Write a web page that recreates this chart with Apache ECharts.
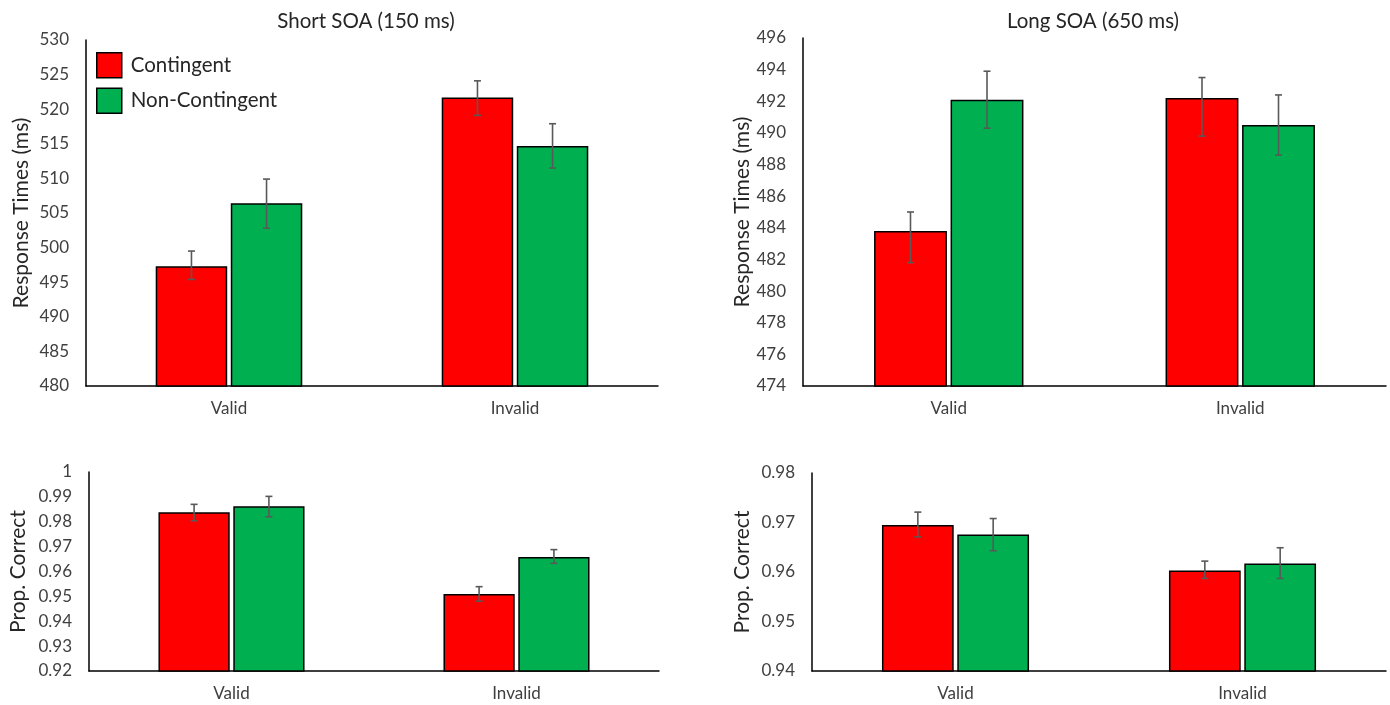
<!DOCTYPE html>
<html>
<head>
<meta charset="utf-8">
<title>Response times and accuracy by SOA</title>
<script src="https://cdn.jsdelivr.net/npm/echarts@6/dist/echarts.min.js"></script>
<style>
  html, body { margin: 0; padding: 0; background: #fff; }
  #chart { width: 1390px; height: 705px; }
</style>
</head>
<body>
<div id="chart"></div>
<script>
// categories
const cueTypes = ["Valid", "Invalid"];
const groupNames = ["Contingent", "Non-Contingent"];

// short SOA, response times (ms)
const shortRtContingent = [497.3, 521.7];
const shortRtContingentErr = [[495.4, 499.5], [519.1, 524.1]];
const shortRtNonContingent = [506.4, 514.7];
const shortRtNonContingentErr = [[502.8, 509.9], [511.5, 517.9]];

// long SOA, response times (ms)
const longRtContingent = [483.8, 492.2];
const longRtContingentErr = [[481.8, 485.0], [489.8, 493.5]];
const longRtNonContingent = [492.1, 490.5];
const longRtNonContingentErr = [[490.3, 493.9], [488.6, 492.4]];

// short SOA, proportion correct
const shortAccContingent = [0.9838, 0.9510];
const shortAccContingentErr = [[0.9804, 0.9870], [0.9481, 0.9539]];
const shortAccNonContingent = [0.9862, 0.9658];
const shortAccNonContingentErr = [[0.9820, 0.9902], [0.9633, 0.9688]];

// long SOA, proportion correct
const longAccContingent = [0.9695, 0.9603];
const longAccContingentErr = [[0.9671, 0.9721], [0.9587, 0.9622]];
const longAccNonContingent = [0.9676, 0.9617];
const longAccNonContingentErr = [[0.9643, 0.9708], [0.9587, 0.9649]];

// axis ranges
const yRanges = [
  { min: 480, max: 530, interval: 5 },
  { min: 474, max: 496, interval: 2 },
  { min: 0.92, max: 1, interval: 0.01 },
  { min: 0.94, max: 0.98, interval: 0.01 },
];
const yNames = ["Response Times (ms)", "Response Times (ms)", "Prop. Correct", "Prop. Correct"];
const panelTitles = ["Short SOA (150 ms)", "Long SOA (650 ms)"];

const FONT = "Lato, 'Open Sans', sans-serif";
const RED = "#ff0000";
const GREEN = "#00b050";
const BAR_W = 0.25;
const BAR_GAP = 0.05;

const grids = [
  { left: 86, top: 40, width: 572, height: 346 },
  { left: 803, top: 38, width: 583, height: 348 },
  { left: 89, top: 472, width: 570, height: 199 },
  { left: 812, top: 473, width: 574, height: 198 },
];
const nameGaps = [54, 48, 60, 59];

const panels = [
  [shortRtContingent, shortRtNonContingent, shortRtContingentErr, shortRtNonContingentErr],
  [longRtContingent, longRtNonContingent, longRtContingentErr, longRtNonContingentErr],
  [shortAccContingent, shortAccNonContingent, shortAccContingentErr, shortAccNonContingentErr],
  [longAccContingent, longAccNonContingent, longAccContingentErr, longAccNonContingentErr],
];

function errorBars(side) {
  return function (params, api) {
    const idx = api.value(0);
    const lo = api.coord([idx, api.value(1)]);
    const hi = api.coord([idx, api.value(2)]);
    const band = api.size([1, 0])[0];
    const bw = band * BAR_W;
    const x = lo[0] + side * (bw + bw * BAR_GAP) / 2;
    const cap = 3.5;
    const style = { stroke: "#595959", lineWidth: 1.6 };
    return {
      type: "group",
      children: [
        { type: "line", shape: { x1: x, y1: lo[1], x2: x, y2: hi[1] }, style },
        { type: "line", shape: { x1: x - cap, y1: hi[1], x2: x + cap, y2: hi[1] }, style },
        { type: "line", shape: { x1: x - cap, y1: lo[1], x2: x + cap, y2: lo[1] }, style },
      ],
    };
  };
}

const series = [];
panels.forEach(([cont, nonCont, contErr, nonContErr], i) => {
  [[cont, RED, groupNames[0]], [nonCont, GREEN, groupNames[1]]].forEach(([vals, color, name]) => {
    series.push({
      name,
      type: "bar",
      xAxisIndex: i,
      yAxisIndex: i,
      data: vals,
      barWidth: BAR_W * 100 + "%",
      barGap: BAR_GAP * 100 + "%",
      itemStyle: { color, borderColor: "#000", borderWidth: 1.5 },
      emphasis: { disabled: true },
    });
  });
  [[contErr, -1], [nonContErr, 1]].forEach(([errs, side]) => {
    series.push({
      type: "custom",
      xAxisIndex: i,
      yAxisIndex: i,
      z: 5,
      silent: true,
      renderItem: errorBars(side),
      encode: { x: 0, y: [1, 2] },
      data: errs.map((e, k) => [k, e[0], e[1]]),
    });
  });
});

const titleStyle = { fontFamily: FONT, fontSize: 20.5, fontWeight: "normal", color: "#262626" };

const chart = echarts.init(document.getElementById("chart"));
chart.setOption({
  backgroundColor: "#fff",
  animation: false,
  textStyle: { fontFamily: FONT },
  title: [
    { text: panelTitles[0], left: 366, top: 11, textAlign: "center", padding: 0, textStyle: titleStyle },
    { text: panelTitles[1], left: 1093, top: 11, textAlign: "center", padding: 0, textStyle: titleStyle },
  ],
  legend: {
    data: groupNames,
    orient: "vertical",
    left: 96,
    top: 52,
    padding: 0,
    itemWidth: 25,
    itemHeight: 25,
    itemGap: 9,
    icon: "rect",
    selectedMode: false,
    itemStyle: { borderColor: "#000", borderWidth: 1.5 },
    textStyle: { fontFamily: FONT, fontSize: 20.5, color: "#262626", padding: [0, 0, 0, 4] },
  },
  grid: grids,
  xAxis: grids.map((g, i) => ({
    type: "category",
    gridIndex: i,
    data: cueTypes,
    axisLine: { lineStyle: { color: "#000", width: 1.5 } },
    axisTick: { show: false },
    axisLabel: { fontFamily: FONT, fontSize: 17, color: "#404040", margin: 14 },
  })),
  yAxis: grids.map((g, i) => ({
    type: "value",
    gridIndex: i,
    min: yRanges[i].min,
    max: yRanges[i].max,
    interval: yRanges[i].interval,
    name: yNames[i],
    nameLocation: "middle",
    nameGap: nameGaps[i],
    nameTextStyle: { fontFamily: FONT, fontSize: 21, color: "#262626" },
    axisLine: { show: true, lineStyle: { color: "#000", width: 1.5 } },
    axisTick: { show: false },
    splitLine: { show: false },
    axisLabel: {
      fontFamily: FONT, fontSize: 17, color: "#404040", margin: 17,
      formatter: (v) => String(+v.toFixed(4)),
    },
  })),
  series,
});
</script>
</body>
</html>
